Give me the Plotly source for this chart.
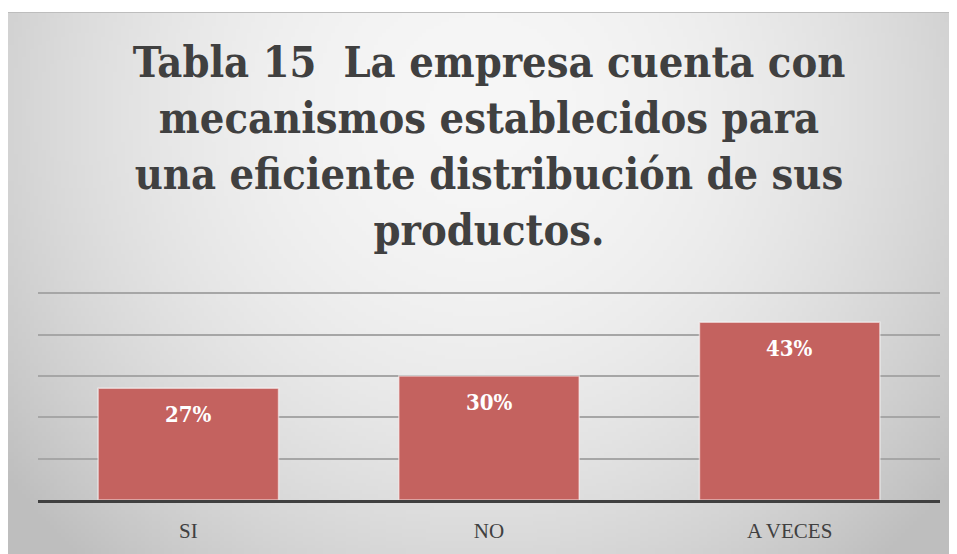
import base64, struct, zlib
import plotly.graph_objects as go

# ---- data ----
categories = ["SI", "NO", "A VECES"]
percent_values = [27, 30, 43]
title_lines = ["Tabla 15  La empresa cuenta con", "mecanismos establecidos para",
               "una eficiente distribución de sus", "productos."]

# page body adds an 8px offset; figure overflows to fill the window edges
W, H = 957, 554
ML, MR, MT, MB = 30, 25, 284, 62
PW, PH = W - ML - MR, H - MT - MB
TOP = 4  # white strip above the gray panel

# ---- radial gray gradient background as png ----
def gradient_png(w, h):
    rows = []
    for j in range(h):
        y = 12 + 542 * j / (h - 1)
        row = bytearray([0])
        for i in range(w):
            x = 7 + 950 * i / (w - 1)
            dx = (x - 480) / 550.0
            dy = (y - 110) / 560.0
            t2 = min(dx * dx + dy * dy, 1.2)
            v = int(round(246 - 47 * t2))
            row.append(max(0, min(255, v)))
        rows.append(bytes(row))
    raw = b"".join(rows)
    def chunk(tag, data):
        c = struct.pack(">I", len(data)) + tag + data
        return c + struct.pack(">I", zlib.crc32(tag + data) & 0xffffffff)
    png = b"\x89PNG\r\n\x1a\n" + chunk(b"IHDR", struct.pack(">IIBBBBB", w, h, 8, 0, 0, 0, 0))
    png += chunk(b"IDAT", zlib.compress(raw, 9)) + chunk(b"IEND", b"")
    return "data:image/png;base64," + base64.b64encode(png).decode()

def px_x(x):
    return (x - ML) / PW

def px_y(y):
    return (H - MB - y) / PH

bg = gradient_png(240, 140)

fig = go.Figure()
fig.add_trace(go.Bar(
    x=categories, y=percent_values,
    marker=dict(color="rgb(196,98,95)", line=dict(color="rgba(255,255,255,0.55)", width=1.5)),
    hoverinfo="x+y",
))

for c, v in zip(categories, percent_values):
    fig.add_annotation(x=c, y=v, text=f"{v}%", showarrow=False, yanchor="middle", yshift=-26,
                       font=dict(family="DejaVu Serif Condensed, DejaVu Serif", size=22, color="white", weight="bold"))

fig.add_layout_image(dict(source=bg, xref="paper", yref="paper", x=px_x(0), y=px_y(TOP),
                          sizex=(950 / PW), sizey=(542 / PH), xanchor="left", yanchor="top",
                          sizing="stretch", layer="below"))
fig.add_shape(type="line", xref="paper", yref="paper", x0=px_x(0), x1=px_x(W), y0=px_y(TOP + 0.5), y1=px_y(TOP + 0.5),
              line=dict(color="#bdbdbd", width=1))

fig.update_layout(
    width=W, height=H,
    margin=dict(l=ML, r=MR, t=MT, b=MB),
    paper_bgcolor="white", plot_bgcolor="rgba(0,0,0,0)",
    title=dict(text="<br>".join(title_lines), x=0.5, xref="paper", xanchor="center",
               y=1 - 69 / H, yref="container", yanchor="top",
               font=dict(family="DejaVu Serif Condensed, DejaVu Serif", size=43, color="#404040", weight="bold")),
    bargap=0.4,
    showlegend=False,
    xaxis=dict(showline=True, linecolor="#404040", linewidth=3, showgrid=False,
               ticks="outside", ticklen=10, tickcolor="rgba(0,0,0,0)",
               tickfont=dict(family="Liberation Serif", size=21, color="#404040")),
    yaxis=dict(range=[0, 50.3], dtick=10, showticklabels=False, showgrid=True,
               gridcolor="#a6a6a6", gridwidth=1.5, zeroline=False),
)

fig.write_html("out.html")
